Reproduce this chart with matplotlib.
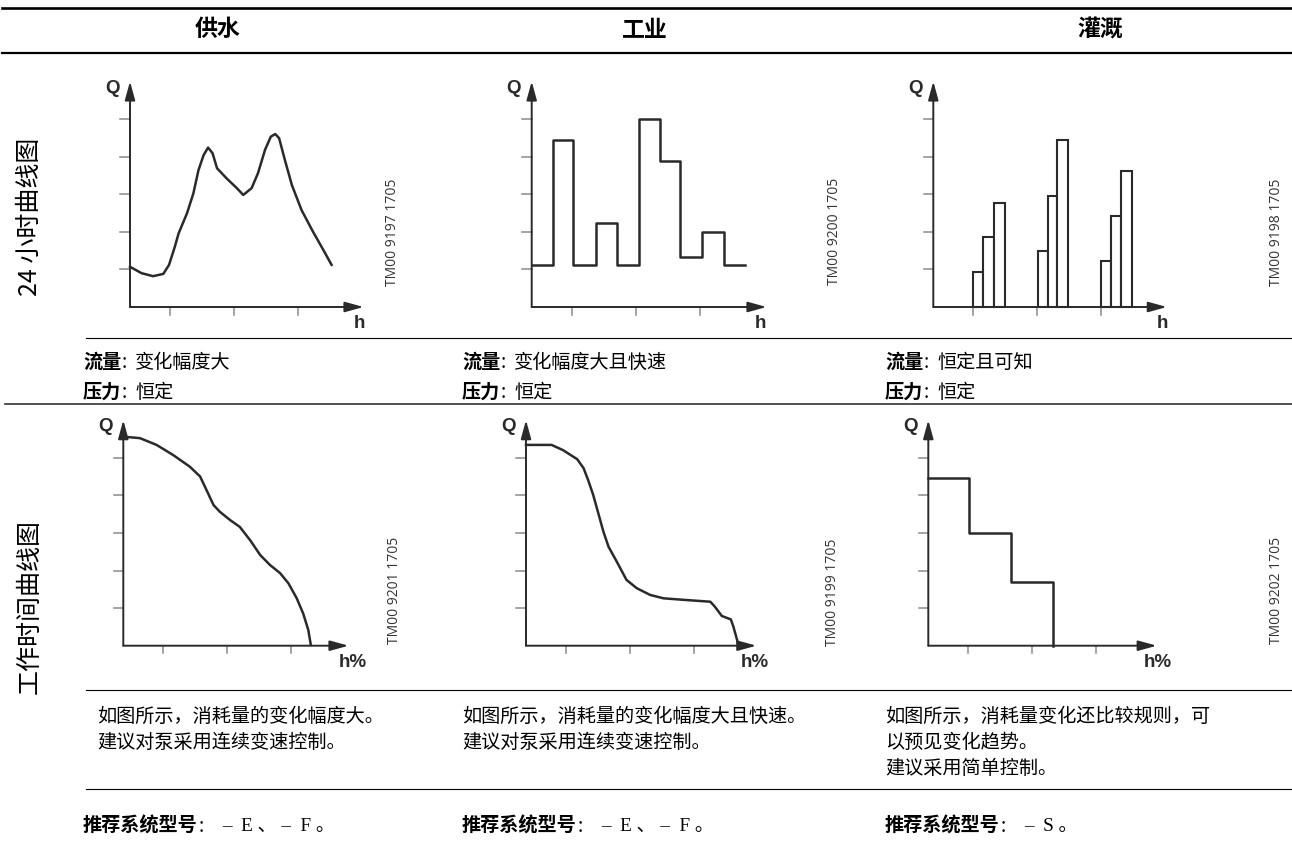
import matplotlib
matplotlib.use('Agg')
import matplotlib.pyplot as plt

plt.rcParams['font.family'] = ['Noto Sans CJK SC', 'DejaVu Sans']

W, H = 1292, 868

# table titles
columns = ['供水', '工业', '灌溉']
rows = ['24 小时曲线图', '工作时间曲线图']

# --- 24 小时曲线图 (Q 刻度 1..5, h 刻度 0.625/1.625/2.625) ---
supply_day_h = [0.00, 0.18, 0.36, 0.52, 0.61, 0.70, 0.76, 0.89, 0.99, 1.07, 1.15, 1.22, 1.29, 1.36,
                1.51, 1.67, 1.77, 1.90, 2.00, 2.11, 2.20, 2.27, 2.33, 2.42, 2.53, 2.68, 2.86, 3.02, 3.15]
supply_day_q = [1.07, 0.90, 0.82, 0.88, 1.12, 1.60, 1.96, 2.49, 3.02, 3.64, 4.04, 4.24, 4.09, 3.69,
                3.42, 3.16, 2.98, 3.16, 3.56, 4.18, 4.53, 4.60, 4.49, 3.91, 3.24, 2.58, 2.00, 1.52, 1.12]

industry_day_edges = [0, 0.33, 0.65, 1.0, 1.33, 1.67, 2.0, 2.32, 2.66, 3.0, 3.33]
industry_day_q = [1.12, 4.44, 1.12, 2.24, 1.12, 5.0, 3.89, 1.32, 1.99, 1.12]

irrigation_day_left = [0.625, 0.78, 0.95, 1.63, 1.79, 1.94, 2.62, 2.78, 2.93]
irrigation_day_right = [0.78, 0.95, 1.12, 1.79, 1.94, 2.11, 2.78, 2.93, 3.11]
irrigation_day_q = [0.94, 1.85, 2.77, 1.49, 2.96, 4.44, 1.22, 2.42, 3.63]

# --- 工作时间曲线图 ---
supply_dur_h = [0.00, 0.26, 0.52, 0.78, 1.04, 1.20, 1.30, 1.41, 1.51, 1.67, 1.82, 1.98, 2.14, 2.29,
                2.45, 2.58, 2.71, 2.81, 2.89, 2.93]
supply_dur_q = [5.56, 5.52, 5.34, 5.07, 4.76, 4.50, 4.14, 3.74, 3.56, 3.34, 3.16, 2.81, 2.41, 2.15,
                1.93, 1.66, 1.26, 0.86, 0.42, 0.02]

industry_dur_h = [0.00, 0.40, 0.58, 0.80, 0.90, 0.97, 1.05, 1.13, 1.21, 1.29, 1.42, 1.57, 1.73, 1.94,
                  2.15, 2.46, 2.88, 2.95, 3.06, 3.20, 3.24, 3.32]
industry_dur_q = [5.34, 5.34, 5.20, 4.96, 4.72, 4.41, 4.01, 3.52, 3.03, 2.63, 2.23, 1.75, 1.53, 1.35,
                  1.26, 1.22, 1.17, 1.04, 0.79, 0.70, 0.51, 0.02]

irrigation_dur_edges = [0, 0.64, 1.29, 1.95]
irrigation_dur_q = [4.45, 3.01, 1.69, 0]

q_ticks = [1, 2, 3, 4, 5]
h_ticks = [0.625, 1.625, 2.625]

drawing_codes = ['TM00 9197 1705', 'TM00 9200 1705', 'TM00 9198 1705',
                 'TM00 9201 1705', 'TM00 9199 1705', 'TM00 9202 1705']

flow_text = ['变化幅度大', '变化幅度大且快速', '恒定且可知']
pressure_text = ['恒定', '恒定', '恒定']
notes = [['如图所示，消耗量的变化幅度大。', '建议对泵采用连续变速控制。'],
         ['如图所示，消耗量的变化幅度大且快速。', '建议对泵采用连续变速控制。'],
         ['如图所示，消耗量变化还比较规则，可', '以预见变化趋势。', '建议采用简单控制。']]
models = ['–  E 、 –  F 。', '–  E 、 –  F 。', '–  S 。']

ink = '#2a2a2a'
fs = 13.8

fig = plt.figure(figsize=(W / 100, H / 100), dpi=100)

# background layer in pixel coordinates: rules and table text
bg = fig.add_axes([0, 0, 1, 1])
bg.set_xlim(0, W)
bg.set_ylim(H, 0)
bg.axis('off')

bg.plot([2, W], [8, 8], color='black', lw=1.9)
bg.plot([2, W], [53, 53], color='black', lw=1.6)
bg.plot([86, W], [338, 338], color='black', lw=0.8)
bg.plot([5, W], [404, 404], color='#333333', lw=1.2)
bg.plot([86, W], [690, 690], color='black', lw=0.8)
bg.plot([86, W], [789, 789], color='black', lw=0.8)

for x, name in zip([218, 645, 1100], columns):
    bg.text(x, 30, name, fontsize=16.5, fontweight='bold', ha='center', va='center')

for y, name in zip([217, 607], rows):
    bg.text(30, y, name, fontsize=18, rotation=90, ha='center', va='center')

col_x = [83, 462, 885]
for x, flow, pres in zip(col_x, flow_text, pressure_text):
    bg.text(x, 362, '流量', fontsize=fs, fontweight='bold', va='center')
    bg.text(x + 39, 362, ':', fontsize=fs, va='center')
    bg.text(x + 52, 362, flow, fontsize=fs, va='center')
    bg.text(x, 392, '压力', fontsize=fs, fontweight='bold', va='center')
    bg.text(x + 39, 392, ':', fontsize=fs, va='center')
    bg.text(x + 52, 392, pres, fontsize=fs, va='center')

for x, lines in zip([97, 462, 885], notes):
    for i, line in enumerate(lines):
        bg.text(x, 716 + 26 * i, line, fontsize=fs, va='center')

for x, model in zip(col_x, models):
    bg.text(x, 826, '推荐系统型号', fontsize=fs, fontweight='bold', va='center')
    bg.text(x + 116, 826, ':', fontsize=fs, va='center')
    bg.text(x + 139, 826, model, fontsize=fs, va='center',
            family=['Liberation Serif', 'Noto Sans CJK SC'])

code_pos = [(393, 232), (835, 231), (1277, 232), (395, 590), (833, 592), (1277, 590)]
for (x, y), code in zip(code_pos, drawing_codes):
    bg.text(x, y, code, fontsize=10, rotation=90, ha='center', va='center',
            family='Open Sans', color='#333333')

# small charts
UX, UY = 64, 37.6


def chart(x0, y0, x_end, h_label):
    left = x0 - 0.5 * UX
    bottom = (H - y0) - 0.7 * UY
    ax = fig.add_axes([left / W, bottom / H, 4.4 * UX / W, 7 * UY / H])
    ax.set_xlim(-0.5, 3.9)
    ax.set_ylim(-0.7, 6.3)
    ax.axis('off')
    ax.patch.set_alpha(0)
    arrow = dict(arrowstyle='-|>,head_length=0.8,head_width=0.22', color=ink, lw=1.4,
                 mutation_scale=14, shrinkA=0, shrinkB=0)
    ax.annotate('', xy=(x_end, 0), xytext=(0, 0), arrowprops=arrow)
    ax.annotate('', xy=(0, 6.0), xytext=(0, 0), arrowprops=arrow)
    for q in q_ticks:
        ax.plot([-0.15, 0], [q, q], color='#8a8a8a', lw=1.1)
    for t in h_ticks:
        ax.plot([t, t], [0, -0.2], color='#8a8a8a', lw=1.1)
    ax.text(-0.28, 5.82, 'Q', fontsize=13.5, fontweight='bold', family='Liberation Sans',
            ha='center', va='center', color=ink)
    ax.text(3.58, -0.45, h_label, fontsize=13.5, fontweight='bold', family='Liberation Sans',
            ha='center', va='center', color=ink)
    return ax


ax1 = chart(130, 307, 3.65, 'h')
ax1.plot(supply_day_h, supply_day_q, color=ink, lw=1.8, solid_joinstyle='round')

ax2 = chart(531.7, 307, 3.67, 'h')
ax2.step(industry_day_edges, industry_day_q + [industry_day_q[-1]], where='post', color=ink, lw=1.8)

ax3 = chart(933.3, 307, 3.65, 'h')
widths = [r - l for l, r in zip(irrigation_day_left, irrigation_day_right)]
ax3.bar(irrigation_day_left, irrigation_day_q, width=widths, align='edge',
        facecolor='white', edgecolor=ink, lw=1.5)

ax4 = chart(123.3, 645.7, 3.52, 'h%')
ax4.plot(supply_dur_h, supply_dur_q, color=ink, lw=1.8, solid_joinstyle='round')

ax5 = chart(526, 645.7, 3.6, 'h%')
ax5.plot(industry_dur_h, industry_dur_q, color=ink, lw=1.8, solid_joinstyle='round')

ax6 = chart(928.3, 645.7, 3.57, 'h%')
ax6.step(irrigation_dur_edges, irrigation_dur_q, where='post', color=ink, lw=1.8)

fig.savefig('out.png', dpi=100)
